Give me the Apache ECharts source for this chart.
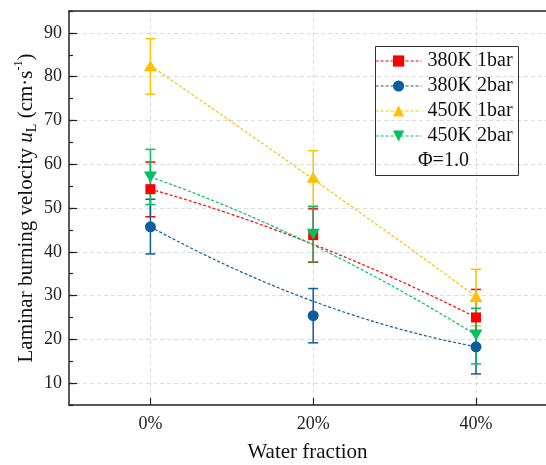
<!DOCTYPE html>
<html>
<head>
<meta charset="utf-8">
<script src="https://cdn.jsdelivr.net/npm/echarts@6/dist/echarts.min.js"></script>
<style>
html,body{margin:0;padding:0;background:#fff;}
#chart{width:546px;height:465px;}
</style>
</head>
<body>
<div id="chart"></div>
<script>
// water fraction (%) and tick labels
var fractions = [0, 20, 40];
var xTicks = [0, 20, 40];
var yTicks = [10, 20, 30, 40, 50, 60, 70, 80, 90];

var names = ['380K 1bar', '380K 2bar', '450K 1bar', '450K 2bar'];
// laminar burning velocity, cm/s
var v380_1 = [54.3, 43.8, 25.0];
var v380_2 = [45.7, 25.4, 18.3];
var v450_1 = [82.5, 57.0, 29.8];
var v450_2 = [57.1, 44.0, 21.0];
// error bar low / high
var lo380_1 = [48.0, 37.6, 18.6], hi380_1 = [60.5, 49.8, 31.4];
var lo380_2 = [39.5, 19.2, 12.1], hi380_2 = [52.0, 31.6, 24.5];
var lo450_1 = [76.0, 50.5, 23.1], hi450_1 = [88.7, 63.1, 36.0];
var lo450_2 = [50.8, 37.7, 14.4], hi450_2 = [63.4, 50.3, 27.1];

var colors = ['#FF0000', '#0D5E9C', '#FFC000', '#00C060'];
var symbols = ['rect', 'circle', 'triangle', 'path://M0,0 L10,0 L5,9 Z'];
var sizes = [10, 11, [13, 11], [13, 11]];

var vals = [v380_1, v380_2, v450_1, v450_2];
var los = [lo380_1, lo380_2, lo450_1, lo450_2];
var his = [hi380_1, hi380_2, hi450_1, hi450_2];

var serif = 'Liberation Serif';
var chart = echarts.init(document.getElementById('chart'));

var series = [];
vals.forEach(function (v, k) {
    var c = colors[k];
    // B-spline connection (quadratic, data points as control points)
    series.push({
        type: 'custom',
        z: 1,
        silent: true,
        data: fractions.map(function (f, i) { return [f, v[i]]; }),
        renderItem: function (params, api) {
            if (params.dataIndex !== fractions.length - 1) return;
            var p = fractions.map(function (f, i) { return api.coord([f, v[i]]); });
            return {
                type: 'path',
                shape: { pathData: 'M' + p[0][0] + ' ' + p[0][1] + ' Q' + p[1][0] + ' ' + p[1][1] + ' ' + p[2][0] + ' ' + p[2][1] },
                style: { stroke: c, fill: null, lineWidth: 1.2, lineDash: [3, 2] }
            };
        }
    });
    // error bars
    series.push({
        type: 'custom',
        z: 2,
        silent: true,
        data: fractions.map(function (f, i) { return [f, los[k][i], his[k][i]]; }),
        renderItem: function (params, api) {
            var a = api.coord([api.value(0), api.value(1)]);
            var b = api.coord([api.value(0), api.value(2)]);
            var w = 5;
            var st = { stroke: c, lineWidth: 1.5 };
            return {
                type: 'group',
                children: [
                    { type: 'line', shape: { x1: a[0], y1: a[1], x2: b[0], y2: b[1] }, style: st },
                    { type: 'line', shape: { x1: a[0] - w, y1: a[1], x2: a[0] + w, y2: a[1] }, style: st },
                    { type: 'line', shape: { x1: b[0] - w, y1: b[1], x2: b[0] + w, y2: b[1] }, style: st }
                ]
            };
        }
    });
    // markers
    series.push({
        name: names[k],
        type: 'line',
        z: 3,
        data: fractions.map(function (f, i) { return [f, v[i]]; }),
        symbol: symbols[k],
        symbolSize: sizes[k],
        showAllSymbol: true,
        itemStyle: { color: c, opacity: 1 },
        lineStyle: { color: c, opacity: 0, width: 0 }
    });
});

var option = {
    animation: false,
    textStyle: { fontFamily: serif },
    grid: { left: 69, top: 11, right: 0, bottom: 60, outerBoundsMode: 'none' },
    legend: {
        left: 370,
        top: 46,
        orient: 'vertical',
        itemWidth: 46,
        itemHeight: 14,
        itemGap: 5,
        selectedMode: false,
        textStyle: { fontFamily: serif, fontSize: 20, color: '#111', lineHeight: 20, padding: [0, 0, 0, 1] },
        data: names.map(function (n, k) {
            return { name: n, lineStyle: { color: colors[k], opacity: 1, width: 1.2, type: [3, 2] } };
        })
    },
    graphic: [
        { type: 'rect', left: 373, top: 44, shape: { width: 143, height: 129 }, style: { fill: null, stroke: '#333', lineWidth: 1 }, z: 10 },
        { type: 'text', left: 418, top: 151, style: { text: 'Φ=1.0', font: '20px "Liberation Serif"', fill: '#111' }, z: 10 }
    ],
    xAxis: [{
        type: 'value',
        min: -10,
        max: 48.6,
        name: 'Water fraction',
        nameLocation: 'middle',
        nameGap: 37,
        nameMoveOverlap: false,
        nameTextStyle: { fontFamily: serif, fontSize: 21, color: '#111' },
        axisLine: { onZero: false, lineStyle: { color: '#222', width: 1.5 } },
        axisTick: { inside: true, length: 7, customValues: xTicks, lineStyle: { color: '#222', width: 1.2 } },
        axisLabel: { customValues: xTicks, margin: 10, fontFamily: serif, fontSize: 18, color: '#222', formatter: '{value}%' },
        splitLine: { show: true, lineStyle: { color: '#dcdcdc', type: [4, 3], width: 1 } }
    }, {
        type: 'value',
        position: 'top',
        min: -10,
        max: 48.6,
        axisLine: { show: true, onZero: false, lineStyle: { color: '#222', width: 1.5 } },
        axisTick: { show: false },
        axisLabel: { show: false },
        splitLine: { show: false }
    }],
    yAxis: [{
        type: 'value',
        min: 5,
        max: 95,
        name: '{a|Laminar burning velocity }{i|u}{s|L}{a| (cm·s}{p|-1}{a|)}',
        nameLocation: 'middle',
        nameGap: 30,
        nameMoveOverlap: false,
        nameTextStyle: {
            rich: {
                a: { fontFamily: serif, fontSize: 21, color: '#111', lineHeight: 26 },
                i: { fontFamily: serif, fontSize: 21, fontStyle: 'italic', color: '#111', lineHeight: 26 },
                s: { fontFamily: serif, fontSize: 14, color: '#111', verticalAlign: 'bottom', lineHeight: 14 },
                p: { fontFamily: serif, fontSize: 12, color: '#111', verticalAlign: 'top', lineHeight: 12 }
            }
        },
        axisLine: { show: true, onZero: false, lineStyle: { color: '#222', width: 1.5 } },
        axisTick: { inside: true, length: 8, customValues: yTicks, lineStyle: { color: '#222', width: 1.2 } },
        axisLabel: { customValues: yTicks, margin: 7, fontFamily: serif, fontSize: 18, color: '#222' },
        splitLine: { show: true, lineStyle: { color: '#dcdcdc', type: [4, 3], width: 1 } }
    }, {
        type: 'value',
        position: 'left',
        min: 5,
        max: 95,
        interval: 5,
        axisLine: { show: false, onZero: false },
        axisTick: { inside: true, length: 4, lineStyle: { color: '#222', width: 1.2 } },
        axisLabel: { show: false },
        splitLine: { show: false }
    }],
    series: series
};

chart.setOption(option);
</script>
</body>
</html>
